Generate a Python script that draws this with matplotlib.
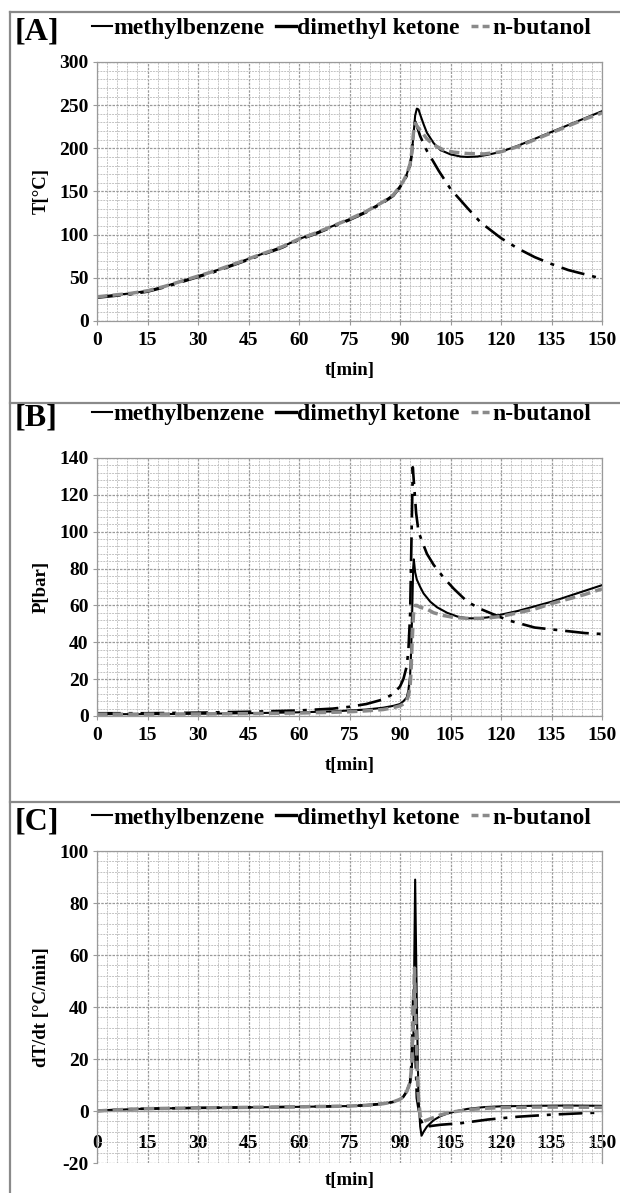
import matplotlib
matplotlib.use('Agg')
import matplotlib.pyplot as plt
from matplotlib.lines import Line2D
from matplotlib.ticker import MultipleLocator

plt.rcParams['font.family'] = ['Liberation Serif', 'DejaVu Serif']
plt.rcParams['font.weight'] = 'bold'
plt.rcParams['axes.unicode_minus'] = False

names = ['methylbenzene', 'dimethyl ketone', 'n-butanol']

# [A] temperature
tA_mb = [0, 5, 10, 15, 20, 25, 30, 35, 40, 45, 50, 55, 60, 65, 70, 75, 80, 85, 88, 90, 91, 92, 93, 93.5,
         94, 94.5, 95, 95.5, 96, 97, 98, 100, 102, 105, 108, 110, 113, 116, 120, 125, 130, 135, 140, 145, 150]
TA_mb = [28, 30, 32, 35, 40, 46, 52, 58, 65, 72, 79, 86, 95, 102, 110, 118, 127, 138, 146, 156, 162, 170, 182, 195,
         215, 238, 246, 245, 239, 228, 218, 206, 198, 193, 190.5, 190, 190.5, 192.5, 196, 203, 211, 219, 227, 235, 243]
tA_dk = [0, 5, 10, 15, 20, 25, 30, 35, 40, 45, 50, 55, 60, 65, 70, 75, 80, 85, 88, 90, 91, 92, 93, 93.5,
         94, 94.5, 95, 96, 98, 100, 101.5, 105, 110, 114, 120, 125, 130, 135, 140, 145, 150]
TA_dk = [27, 29, 31, 34, 39, 45, 51, 57, 64, 71, 78, 85, 94, 101, 109, 117, 126, 137, 145, 155, 161, 168, 180, 193,
         218, 231, 226, 214, 197, 184, 174, 153, 131, 114, 96, 84, 74, 66, 59, 54, 49]
tA_nb = [0, 5, 10, 15, 20, 25, 30, 35, 40, 45, 50, 55, 60, 65, 70, 75, 80, 85, 88, 90, 91, 92, 93, 93.5,
         94, 94.5, 95, 96, 98, 100, 103, 106, 110, 115, 120, 125, 130, 135, 140, 145, 150]
TA_nb = [28, 30, 32, 35, 40, 46, 52, 58, 65, 72, 79, 86, 95, 102, 110, 118, 127, 138, 146, 156, 162, 170, 182, 196,
         218, 229, 226, 221, 211, 204, 198, 195.5, 194, 193.5, 196, 202, 210, 218, 226, 234, 241]

# [B] pressure
tB_mb = [0, 15, 30, 45, 60, 70, 75, 80, 85, 88, 90, 91, 92, 92.5, 93, 93.3, 93.6, 93.9, 94.1, 94.5, 95, 96, 97,
         99, 101, 104, 107, 110, 113, 116, 120, 125, 130, 135, 140, 145, 150]
PB_mb = [1, 1, 1.2, 1.5, 2, 2.5, 3, 3.5, 4.5, 5.5, 6.5, 8, 10, 14, 22, 35, 55, 80, 85, 78, 74, 70, 66.5,
         62, 59, 56, 54, 53, 53, 53.5, 55, 57, 59.5, 62, 65, 68, 71]
tB_dk = [0, 15, 30, 45, 60, 70, 75, 80, 85, 88, 90, 91, 92, 92.5, 93, 93.4, 93.8, 94.2, 94.8, 95.5, 96.5, 98,
         100, 103, 106, 110, 114, 118, 122, 126, 130, 135, 140, 145, 150]
PB_dk = [1.5, 1.5, 1.8, 2.3, 3, 4, 5, 6.5, 9, 12, 16, 20, 27, 36, 55, 95, 135, 125, 110, 100, 95, 88,
         82, 75, 69, 62, 58, 55, 52, 50, 48, 47, 46, 45, 44.5]
tB_nb = [0, 15, 30, 45, 60, 70, 75, 80, 85, 88, 90, 91, 92, 92.5, 93, 93.3, 93.6, 94, 94.5, 95, 96, 98,
         100, 103, 106, 110, 115, 120, 125, 130, 135, 140, 145, 150]
PB_nb = [1, 1, 1.1, 1.3, 1.6, 2, 2.3, 2.8, 3.5, 4.5, 5.5, 6.5, 8.5, 11, 16, 25, 40, 55, 60, 60, 59, 58,
         56, 54.5, 53.5, 53, 53, 54, 56, 58, 61, 63.5, 66, 69]

# [C] heating rate
tC_mb = [0, 5, 10, 15, 20, 30, 45, 60, 75, 80, 85, 88, 90, 91, 92, 93, 93.5, 94, 94.5, 95, 95.5, 96, 96.4,
         97, 98, 100, 102, 104, 107, 110, 115, 120, 130, 140, 150]
dC_mb = [0, 0.4, 0.7, 0.9, 1.0, 1.2, 1.4, 1.6, 1.9, 2.2, 2.8, 3.5, 4.5, 5.5, 7.5, 11, 16, 30, 89, 40, 5, -6, -9.5,
         -8, -6, -3.5, -2, -1, 0, 0.8, 1.5, 1.8, 2.0, 2.1, 2.0]
tC_dk = [0, 5, 10, 15, 20, 30, 45, 60, 75, 80, 85, 88, 90, 91, 92, 93, 93.5, 94, 94.5, 95, 96, 97, 97.5,
         99, 102, 105, 108, 112, 116, 120, 125, 130, 135, 140, 145, 150]
dC_dk = [0, 0.4, 0.7, 0.9, 1.0, 1.2, 1.4, 1.6, 1.9, 2.2, 2.8, 3.5, 4.5, 5.5, 7.5, 11, 20, 48, 25, 5, -3, -5.5, -6,
         -5.8, -5.3, -5, -4.7, -4, -3.3, -2.8, -2.2, -1.8, -1.4, -1.1, -0.8, -0.6]
tC_nb = [0, 5, 10, 15, 20, 30, 45, 60, 75, 80, 85, 88, 90, 91, 92, 93, 93.5, 94, 94.3, 94.8, 95.3, 96, 97,
         98, 100, 102, 105, 110, 115, 120, 130, 140, 150]
dC_nb = [0, 0.4, 0.7, 0.9, 1.0, 1.2, 1.4, 1.6, 1.9, 2.2, 2.8, 3.5, 4.5, 5.5, 7.5, 11, 18, 40, 55, 30, 8, -2, -4,
         -3.5, -2.5, -1.5, -0.5, 0.5, 1, 1.3, 1.5, 1.5, 1.4]

styles = [dict(color='black', lw=1.5, ls='-'),
          dict(color='black', lw=1.9, ls=(0, (9, 3, 1.5, 3))),
          dict(color='#8a8a8a', lw=2.5, ls=(0, (3, 1.5)))]

W, H = 620, 1193
fig = plt.figure(figsize=(W / 100, H / 100), dpi=100)


def make_axes(top, bottom):
    return fig.add_axes([97 / W, 1 - bottom / H, 505 / W, (bottom - top) / H])


def style_axes(ax, ymin, ymax, ymaj, ylabel, xlab_y):
    ax.set_xlim(0, 150)
    ax.set_ylim(ymin, ymax)
    ax.xaxis.set_major_locator(MultipleLocator(15))
    ax.xaxis.set_minor_locator(MultipleLocator(3))
    ax.yaxis.set_major_locator(MultipleLocator(ymaj))
    ax.yaxis.set_minor_locator(MultipleLocator(ymaj / 5))
    ax.grid(which='major', color='#9a9a9a', lw=0.9, ls=(0, (2, 1)))
    ax.grid(which='minor', color='#c4c4c4', lw=0.7, ls=(0, (2, 1)))
    ax.set_axisbelow(True)
    for s in ax.spines.values():
        s.set_color('#9a9a9a')
        s.set_linewidth(0.9)
    ax.tick_params(which='major', direction='out', length=3, color='#9a9a9a', labelsize=14)
    ax.tick_params(which='minor', length=0)
    ax.tick_params(axis='x', pad=5)
    ax.tick_params(axis='y', pad=3)
    for lab in ax.get_xticklabels() + ax.get_yticklabels():
        lab.set_fontweight('bold')
    ax.set_ylabel(ylabel, fontsize=13.5, fontweight='bold')
    ax.yaxis.set_label_coords(-0.093, 0.5)
    ax.set_xlabel('t[min]', fontsize=13.5, fontweight='bold')
    ax.xaxis.set_label_coords(0.5, xlab_y)


def add_header(label, ycen):
    fig.text(15 / W, 1 - ycen / H, label, fontsize=23, fontweight='bold', va='center', ha='left')
    handles = [Line2D([], [], color='black', lw=1.5),
               Line2D([], [], color='black', lw=2.4),
               Line2D([], [], color='#8a8a8a', lw=2.5, ls=(0, (2, 1.2)))]
    fig.legend(handles, names, loc='center left', bbox_to_anchor=(80 / W, 1 - (ycen - 4) / H),
               ncol=3, frameon=False, handlelength=0.85, handletextpad=0.08, columnspacing=0.45,
               borderpad=0, prop=dict(family='Liberation Serif', weight='bold', size=17))


# panel A
axA = make_axes(62, 321)
axA.plot(tA_mb, TA_mb, **styles[0])
axA.plot(tA_dk, TA_dk, **styles[1])
axA.plot(tA_nb, TA_nb, **styles[2])
style_axes(axA, 0, 300, 50, 'T[°C]', -0.158)
add_header('[A]', 32)

# panel B
axB = make_axes(458, 716)
axB.plot(tB_mb, PB_mb, **styles[0])
axB.plot(tB_dk, PB_dk, **styles[1])
axB.plot(tB_nb, PB_nb, **styles[2])
style_axes(axB, 0, 140, 20, 'P[bar]', -0.159)
add_header('[B]', 418)

# panel C
axC = make_axes(851, 1163)
axC.plot(tC_mb, dC_mb, **styles[0])
axC.plot(tC_dk, dC_dk, **styles[1])
axC.plot(tC_nb, dC_nb, **styles[2])
style_axes(axC, -20, 100, 20, 'dT/dt [°C/min]', -0.03)
axC.spines['bottom'].set_position(('data', 0))
axC.tick_params(axis='x', pad=14)
add_header('[C]', 822)

# frame lines around the panels
frame = dict(color='#8a8a8a', lw=1.6, transform=fig.transFigure)
fig.add_artist(Line2D([10 / W, 10 / W], [0, 1 - 12 / H], **frame))
fig.add_artist(Line2D([10 / W, 1], [1 - 12 / H, 1 - 12 / H], **frame))
fig.add_artist(Line2D([10 / W, 1], [1 - 403 / H, 1 - 403 / H], **frame))
fig.add_artist(Line2D([10 / W, 1], [1 - 802 / H, 1 - 802 / H], **frame))

fig.savefig('out.png', dpi=100)
